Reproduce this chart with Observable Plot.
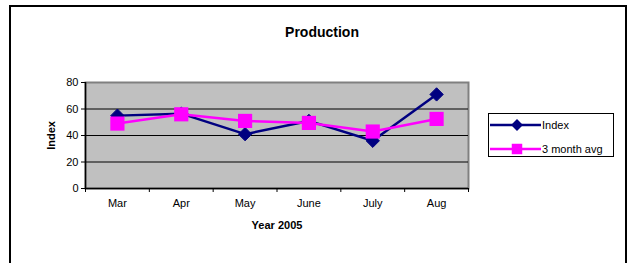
<!DOCTYPE html>
<html>
<head>
<meta charset="utf-8">
<script src="https://cdn.jsdelivr.net/npm/d3@7"></script>
<script src="https://cdn.jsdelivr.net/npm/@observablehq/plot@0.6"></script>
<style>
  body { margin: 0; background: white; font-family: "Liberation Sans", Arial, sans-serif; }
  #wrap { position: relative; width: 637px; height: 263px; overflow: hidden; background: white; }
  #border { position: absolute; left: 9px; top: 5px; width: 618px; height: 300px; border: 2px solid black; box-sizing: border-box; }
  #chart { position: absolute; left: 0; top: 0; }
  #legend { position: absolute; left: 488px; top: 113px; width: 126px; height: 44px; border: 1px solid black; box-sizing: border-box; background: white; }
</style>
</head>
<body>
<div id="wrap">
  <div id="border"></div>
  <div id="chart"></div>
  <div id="legend"></div>
</div>
<script>
const months = ["Mar", "Apr", "May", "June", "July", "Aug"];
const indexValues = [55, 56.5, 41, 51, 36, 71];
const avgValues = [49, 56, 51, 49.5, 43, 52.5];
const yTicks = [0, 20, 40, 60, 80];
const seriesNames = ["Index", "3 month avg"];
const seriesColors = ["#000080", "#FF00FF"];
const titleText = "Production";
const xTitle = "Year 2005";
const yTitle = "Index";

const data = months.map((m, i) => ({ pos: i + 0.5, month: m, index: indexValues[i], avg: avgValues[i] }));

const plot = Plot.plot({
  width: 637,
  height: 263,
  marginLeft: 85,
  marginRight: 169,
  marginTop: 82,
  marginBottom: 75,
  style: { fontFamily: "'Liberation Sans', Arial, sans-serif", fontSize: "11px", background: "transparent", color: "black" },
  x: { domain: [0, months.length], axis: null },
  y: { domain: [0, 80], axis: null },
  marks: [
    Plot.frame({ fill: "#C0C0C0", stroke: "#808080", strokeWidth: 2 }),
    Plot.gridY(yTicks.filter(t => t > 0 && t < 80), { stroke: "black", strokeOpacity: 1, strokeWidth: 1 }),
    Plot.axisY({ ticks: yTicks, tickSize: 4, tickPadding: 3, label: null, stroke: "black" }),
    Plot.axisX({ ticks: d3.range(months.length + 1), tickFormat: () => "", tickSize: 4, label: null, stroke: "black" }),
    Plot.axisX({ ticks: data.map(d => d.pos), tickFormat: d => months[Math.floor(d)], tickSize: 0, tickPadding: 11, label: null }),
    Plot.ruleX([0], { stroke: "black", strokeWidth: 1.5 }),
    Plot.ruleY([0], { stroke: "black", strokeWidth: 1.5 }),
    Plot.line(data, { x: "pos", y: "index", stroke: seriesColors[0], strokeWidth: 2.5 }),
    Plot.dot(data, { x: "pos", y: "index", symbol: "diamond2", r: 6, fill: seriesColors[0], stroke: seriesColors[0], strokeWidth: 1 }),
    Plot.line(data, { x: "pos", y: "avg", stroke: seriesColors[1], strokeWidth: 2.5 }),
    Plot.dot(data, { x: "pos", y: "avg", symbol: "square", r: 8, fill: seriesColors[1], stroke: seriesColors[1], strokeWidth: 0 }),
    Plot.text([yTitle], { frameAnchor: "left", rotate: -90, dx: -34, textAnchor: "middle", lineAnchor: "middle", fontWeight: "bold", fontSize: 11 }),
    Plot.text([xTitle], { frameAnchor: "bottom", dy: 37, lineAnchor: "middle", fontWeight: "bold", fontSize: 11 }),
    Plot.text([titleText], { frameAnchor: "top", dy: -50, dx: 45, lineAnchor: "middle", fontWeight: "bold", fontSize: 14 })
  ]
});
document.getElementById("chart").appendChild(plot);

// Legend
const legend = d3.select("#legend").append("svg").attr("width", 124).attr("height", 42);
const symbols = [d3.symbol(d3.symbolDiamond2, 90), d3.symbol(d3.symbolSquare, 110)];
seriesNames.forEach((name, i) => {
  const y = 11 + i * 24;
  legend.append("line").attr("x1", 1).attr("x2", 52).attr("y1", y).attr("y2", y)
    .attr("stroke", seriesColors[i]).attr("stroke-width", 2.5);
  legend.append("path").attr("d", symbols[i]()).attr("transform", `translate(28,${y})`)
    .attr("fill", seriesColors[i]);
  legend.append("text").attr("x", 53).attr("y", y).attr("dy", "0.35em")
    .attr("font-size", 11).attr("font-family", "'Liberation Sans', Arial, sans-serif").text(name);
});
</script>
</body>
</html>
